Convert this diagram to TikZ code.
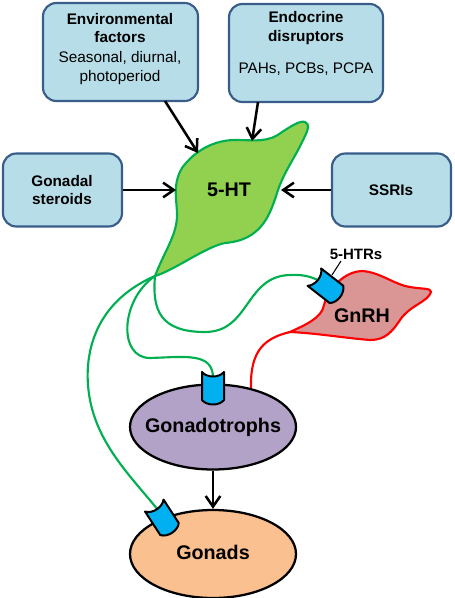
\documentclass[tikz,border=0pt]{standalone}
\usepackage{fontspec}
\setmainfont{Liberation Sans}
\usetikzlibrary{arrows.meta,shapes.geometric}
\definecolor{boxfill}{RGB}{183,222,232}
\definecolor{boxline}{RGB}{56,93,138}
\definecolor{htfill}{RGB}{146,208,80}
\definecolor{htline}{RGB}{0,176,80}
\definecolor{gnfill}{RGB}{217,150,148}
\definecolor{gtfill}{RGB}{178,162,199}
\definecolor{gofill}{RGB}{250,192,144}
\definecolor{recfill}{RGB}{0,176,240}
\newcommand{\fsmall}{\fontsize{11.5}{13.9}\selectfont}
\newcommand{\fbig}{\fontsize{14.8}{17}\selectfont\bfseries}
\tikzset{
  infobox/.style={draw=boxline,fill=boxfill,line width=1.6pt,rounded corners=10pt,inner sep=0pt},
  boxtext/.style={inner sep=0pt,align=center,font=\fsmall},
  organ/.style={draw=black,line width=1.7pt,shape=ellipse,inner sep=0pt},
  celltext/.style={inner sep=0pt,font=\fbig},
  flow/.style={-{Straight Barb[length=8pt,width=11pt,line width=1.9pt]},line width=1.9pt,black},
  greenaxon/.style={draw=htline,line width=1.6pt},
  redaxon/.style={draw=red,line width=1.6pt},
  receptor/.style={draw=black,fill=recfill,line width=1.5pt,line join=round},
}
\newcommand{\receptorshape}[3]{%
  \begin{scope}[shift={(#1,#2)},rotate=#3]
    \draw[receptor] (-11,-16) .. controls (-6,-10) and (6,-10) .. (11,-16)
      -- (11,12) .. controls (6,18) and (-6,18) .. (-11,12) -- cycle;
  \end{scope}}
\begin{document}
\begin{tikzpicture}[x=0.75pt,y=-0.75pt]
\useasboundingbox (0,0) rectangle (454,598);
% info boxes
\node[infobox,minimum width=155*0.75pt,minimum height=98*0.75pt] (env) at (120.5,52) {};
\node[boxtext] (envt) at (120,28) {\bfseries Environmental\\ \bfseries factors};
\node[boxtext] (envs) at (120,68) {Seasonal, diurnal,\\ photoperiod};
\node[infobox,minimum width=154*0.75pt,minimum height=98*0.75pt] (endo) at (306,53) {};
\node[boxtext] (endot) at (306,28) {\bfseries Endocrine\\ \bfseries disruptors};
\node[boxtext] (endos) at (306,69) {PAHs, PCBs, PCPA};
\node[infobox,minimum width=119*0.75pt,minimum height=73*0.75pt] (gon) at (62.5,190) {};
\node[boxtext] (gont) at (62,190) {\bfseries Gonadal\\ \bfseries steroids};
\node[infobox,minimum width=119*0.75pt,minimum height=73*0.75pt] (ssri) at (391.5,190) {};
\node[boxtext] (ssrit) at (391,190) {\bfseries SSRIs};
% axons
\coordinate (tip) at (155,276);
\coordinate (gnrhtip) at (290,332);
\draw[greenaxon] (tip) .. controls (152,310) and (160,332) .. (205,332)
  .. controls (250,332) and (245,276) .. (290,275) .. controls (305,274) and (315,278) .. (323,283);
\draw[greenaxon] (tip) .. controls (120,300) and (118,358) .. (150,358)
  .. controls (185,357) and (213,352) .. (213,378);
\draw[greenaxon] (tip) .. controls (100,300) and (85,345) .. (88,385)
  .. controls (92,440) and (130,475) .. (158,510);
% 5-HT cell
\draw[draw=htline,fill=htfill,line width=1.6pt]
  (tip) .. controls (165,250) and (177,235) .. (177,215)
  .. controls (177,200) and (172,185) .. (182,168)
  .. controls (195,150) and (215,140) .. (235,140)
  .. controls (255,140) and (268,143) .. (282,132)
  .. controls (290,127) and (300,120) .. (305,122)
  .. controls (310,124) and (308,130) .. (305,136)
  .. controls (295,158) and (285,170) .. (278,190)
  .. controls (270,215) and (262,240) .. (225,243)
  .. controls (205,247) and (175,270) .. (tip) -- cycle;
\node[celltext] (ht) at (229,190) {5-HT};
% GnRH cell
\draw[draw=red,fill=gnfill,line width=1.6pt]
  (gnrhtip) .. controls (305,325) and (322,318) .. (324,305)
  .. controls (326,295) and (340,272) .. (362,271)
  .. controls (380,272) and (395,285) .. (410,287)
  .. controls (420,289) and (432,288) .. (431,292)
  .. controls (428,302) and (410,305) .. (400,320)
  .. controls (392,332) and (385,340) .. (370,340)
  .. controls (345,338) and (315,333) .. (gnrhtip) -- cycle;
\node[celltext] (gnrh) at (362,316) {GnRH};
\draw[redaxon] (gnrhtip) .. controls (265,338) and (250,350) .. (251,388);
% organs
\node[organ,fill=gtfill,minimum width=166*0.75pt,minimum height=85*0.75pt] (gt) at (213,427) {};
\node[celltext] (gtt) at (213,427) {Gonadotrophs};
\node[organ,fill=gofill,minimum width=166*0.75pt,minimum height=88*0.75pt] (go) at (213,554) {};
\node[celltext] (got) at (213,552) {Gonads};
% receptors
\receptorshape{213}{388}{0}
\receptorshape{327}{287}{52}
\receptorshape{163}{519}{33}
% labels
\node[boxtext,font=\fontsize{11.25}{13}\selectfont\bfseries] (htrs) at (356,254) {5-HTRs};
\coordinate (rectop) at (332,275);
\draw[line width=0.8pt] (341,261) -- (rectop);
% arrows
\draw[flow] (165,101) -- (198,153);
\draw[flow] (258,102) -- (252,141);
\draw[flow] (gon.east) -- (176,190);
\draw[flow] (ssri.west) -- (281,190);
\draw[flow] (gt.south) -- (go.north);
\end{tikzpicture}
\end{document}
